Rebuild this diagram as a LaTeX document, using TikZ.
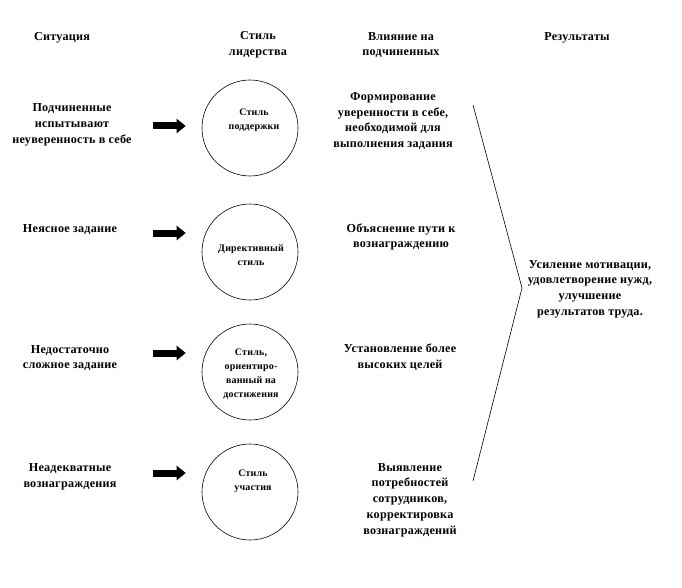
\documentclass[tikz,border=0pt]{standalone}
\usepackage{fontspec}
\setmainfont{Liberation Serif}[LetterSpace=2]
\usepackage{tikz}
\usetikzlibrary{positioning,arrows.meta,calc}

\begin{document}
\begin{tikzpicture}[x=1bp,y=-1bp,
	txt/.style={align=center,font=\bfseries\fontsize{12.2}{15.8}\selectfont,inner sep=0pt},
	smalltxt/.style={txt,font=\bfseries\fontsize{10}{14.2}\selectfont},
	stylecircle/.style={draw,circle,line width=0.6pt,minimum size=96bp,inner sep=0pt},
	fatarrow/.style={line width=7bp,-{Triangle[length=9bp,width=14bp]},shorten >=16bp}]
			\begingroup
			\useasboundingbox (0,0) rectangle (682,588);
			
			% headers
			\node[txt] (h1) at (62, 38) {Ситуация};
			\node[txt] (h2) at (258, 45) {Стиль\\лидерства};
			\node[txt] (h3) at (401, 45) {Влияние на\\подчиненных};
			\node[txt] (h4) at (577, 38) {Результаты};
			
			% situations
			\node[txt] (sit1) at (72, 125) {Подчиненные\\испытывают\\неуверенность в себе};
			\node[txt] (sit2) at (70, 230) {Неясное задание};
			\node[txt] (sit3) at (70, 358) {Недостаточно\\сложное задание};
			\node[txt] (sit4) at (70, 477) {Неадекватные\\вознаграждения};
			
			% styles
			\node[stylecircle] (s1) at (250, 128) {};
			\node[stylecircle] (s2) at (250, 252) {};
			\node[stylecircle] (s3) at (250, 372) {};
			\node[stylecircle] (s4) at (250, 492) {};
			\node[smalltxt] (t1) at (254, 120) {Стиль\\поддержки};
			\node[smalltxt] (t2) at (251, 255) {Директивный\\стиль};
			\node[smalltxt] (t3) at (251, 374) {Стиль,\\ориентиро-\\ванный на\\достижения};
			\node[smalltxt] (t4) at (253, 481) {Стиль\\участия};
			
			% influence
			\node[txt] (i1) at (393, 121) {Формирование\\уверенности в себе,\\необходимой для\\выполнения задания};
			\node[txt] (i2) at (401, 237) {Объяснение пути к\\вознаграждению};
			\node[txt] (i3) at (400, 357) {Установление более\\высоких целей};
			\node[txt] (i4) at (410, 500) {Выявление\\потребностей\\сотрудников,\\корректировка\\вознаграждений};
			
			% result
			\node[txt] (res) at (590, 289) {Усиление мотивации,\\удовлетворение нужд,\\улучшение\\результатов труда.};
			
			% arrows
			\coordinate (a1) at (153, 126);
			\coordinate (a2) at (153, 233);
			\coordinate (a3) at (153, 353);
			\coordinate (a4) at (153, 473);
			\draw[fatarrow] (a1) -- (a1 -| s1.west);
			\draw[fatarrow] (a2) -- (a2 -| s2.west);
			\draw[fatarrow] (a3) -- (a3 -| s3.west);
			\draw[fatarrow] (a4) -- (a4 -| s4.west);
			
			% bracket
			\coordinate (btop) at (473, 105);
			\coordinate (btip) at (522, 288);
			\coordinate (bbot) at (473, 481);
			\draw[line width=0.6pt] (btop) -- (btip) -- (bbot);
			
			\endgroup
			\end{tikzpicture}
\end{document}
